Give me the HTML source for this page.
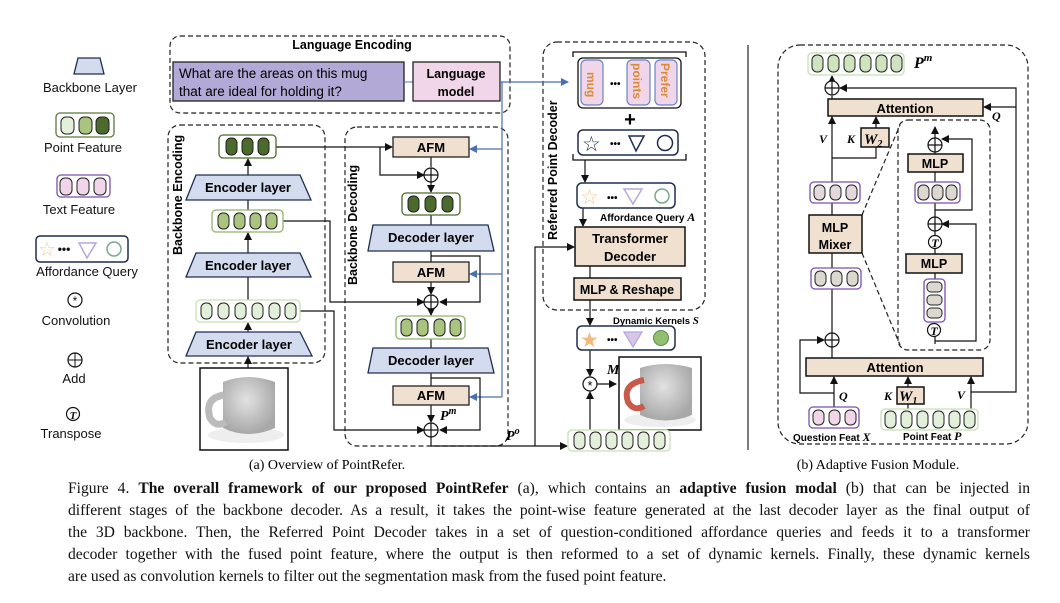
<!DOCTYPE html>
<html><head><meta charset="utf-8"><style>
body{margin:0;background:#fff;width:1060px;height:603px;overflow:hidden;position:relative}
svg{position:absolute;left:0;top:0}
.cap{position:absolute;left:68px;width:962px;font-family:"Liberation Serif",serif;font-size:15.6px;color:#111;white-space:nowrap}
.j{text-align:justify;text-align-last:justify;white-space:normal}
</style></head><body>
<svg width="1060" height="603" viewBox="0 0 1060 603" font-family="Liberation Sans, sans-serif">
<defs>
<marker id="a" markerWidth="8" markerHeight="8" refX="7" refY="4" orient="auto" markerUnits="userSpaceOnUse"><path d="M0,0 L8,4 L0,8 z" fill="#111"/></marker>
<marker id="b" markerWidth="8" markerHeight="8" refX="7" refY="4" orient="auto" markerUnits="userSpaceOnUse"><path d="M0,0 L8,4 L0,8 z" fill="#4a6fb8"/></marker>
<radialGradient id="mg" cx="45%" cy="40%" r="60%"><stop offset="0" stop-color="#e2e2e2"/><stop offset="1" stop-color="#a8a8a8"/></radialGradient>
</defs>
<g fill="none" stroke="#222" stroke-width="1.2" stroke-dasharray="5,3">
<rect x="170" y="36" width="340" height="77" rx="10"/>
<rect x="168" y="125" width="157" height="238" rx="12"/>
<rect x="345" y="127" width="163" height="319" rx="12"/>
<rect x="543" y="42" width="162" height="268" rx="14"/>
<rect x="778" y="45" width="250" height="399" rx="22"/>
<rect x="898" y="120" width="92" height="230" rx="10"/>
<line x1="862" y1="215" x2="900" y2="125"/>
<line x1="862" y1="253" x2="900" y2="345"/>
</g>
<line x1="748" y1="45" x2="748" y2="450" stroke="#222" stroke-width="1.2"/>
<g font-size="13" fill="#111" text-anchor="middle">
<polygon points="78,58 100,58 104,74 74,74" fill="#d3dbef" stroke="#1f2d50" stroke-width="1.3"/>
<text x="90" y="92">Backbone Layer</text>
<rect x="56" y="113" width="58" height="24" rx="4" fill="#fff" stroke="#5a7a3a" stroke-width="1.3"/>
<rect x="61" y="117" width="13" height="17" rx="5" fill="#e2efd9" stroke="#222"/>
<rect x="79" y="117" width="13" height="17" rx="5" fill="#a9c47f" stroke="#222"/>
<rect x="96" y="117" width="13" height="17" rx="5" fill="#4a6b2c" stroke="#222"/>
<text x="83" y="152">Point Feature</text>
<rect x="57" y="175" width="53" height="22" rx="4" fill="#fff" stroke="#7a4fb0" stroke-width="1.3"/>
<rect x="60" y="178" width="12" height="17" rx="5" fill="#f0d6e8" stroke="#222"/>
<rect x="77" y="178" width="12" height="17" rx="5" fill="#f0d6e8" stroke="#222"/>
<rect x="94" y="178" width="12" height="17" rx="5" fill="#f0d6e8" stroke="#222"/>
<text x="79" y="214">Text Feature</text>
<rect x="36" y="236" width="92" height="26" rx="4" fill="#fff" stroke="#1f2d50" stroke-width="1.5"/>
<text x="47" y="256" font-size="20" fill="#f3c9a0" stroke="none">☆</text>
<text x="64" y="253" font-size="12" font-weight="bold">•••</text>
<polygon points="79,243 96,243 87,258" fill="none" stroke="#b5a8dc" stroke-width="1.5"/>
<circle cx="114" cy="249" r="7" fill="none" stroke="#7aa88a" stroke-width="1.5"/>
<text x="87" y="276">Affordance Query</text>
<circle cx="75" cy="300" r="7" fill="none" stroke="#111" stroke-width="1.2"/>
<text x="75" y="305" font-size="12">*</text>
<text x="76" y="325">Convolution</text>
<circle cx="75" cy="360" r="7" fill="none" stroke="#111" stroke-width="1.2"/>
<path d="M68,360 H82 M75,353 V367" stroke="#111"/>
<text x="74" y="383">Add</text>
<circle cx="73" cy="414" r="6.5" fill="none" stroke="#111" stroke-width="1.2"/>
<text x="73" y="419" font-size="11" font-style="italic" font-family="Liberation Serif,serif" font-weight="bold">T</text>
<text x="71" y="438">Transpose</text>
</g>
<text x="352" y="49" font-size="12.5" font-weight="bold" text-anchor="middle">Language Encoding</text>
<rect x="173" y="62" width="231" height="39" fill="#b3a9d6" stroke="#222" stroke-width="1.3"/>
<text x="179" y="78" font-size="13.5">What are the areas on this mug</text>
<text x="179" y="96" font-size="13.5">that are ideal for holding it?</text>
<line x1="404" y1="82" x2="413" y2="82" stroke="#4a6fb8"/>
<rect x="413" y="62" width="87" height="39" fill="#f0d6e8" stroke="#222" stroke-width="1.3"/>
<text x="456" y="78" font-size="12.5" font-weight="bold" text-anchor="middle">Language</text>
<text x="456" y="96" font-size="12.5" font-weight="bold" text-anchor="middle">model</text>
<g stroke="#4a6fb8" stroke-width="1.2" fill="none">
<path d="M500,82 H568" marker-end="url(#b)"/>
<path d="M502,82 V397"/>
<path d="M502,149 H470" marker-end="url(#b)"/>
<path d="M502,274 H470" marker-end="url(#b)"/>
<path d="M502,397 H470" marker-end="url(#b)"/>
</g>
<text transform="translate(182,255) rotate(-90)" font-size="12.5" font-weight="bold">Backbone Encoding</text>
<text transform="translate(357,285) rotate(-90)" font-size="12.5" font-weight="bold">Backbone Decoding</text>
<text transform="translate(557,240) rotate(-90)" font-size="12.5" font-weight="bold">Referred Point Decoder</text>
<g stroke="#111" stroke-width="1.2" fill="none">
<path d="M248,368 V357" marker-end="url(#a)"/>
<path d="M248,332 V323" marker-end="url(#a)"/>
<path d="M248,300 V277"/>
<path d="M248,253 V233" marker-end="url(#a)"/>
<path d="M248,210 V200"/>
<path d="M248,175 V159" marker-end="url(#a)"/>
<path d="M276,147 H392" marker-end="url(#a)"/>
<path d="M380,147 V175 H424" marker-end="url(#a)"/>
<path d="M431,157 V167"/>
<path d="M431,182 V192" marker-end="url(#a)"/>
<path d="M431,215 V225"/>
<path d="M431,251 V262"/>
<path d="M431,256 H480 V302 H440" marker-end="url(#a)"/>
<path d="M431,282 V294" marker-end="url(#a)"/>
<path d="M283,221 H330 V302 H424" marker-end="url(#a)"/>
<path d="M431,309 V315" marker-end="url(#a)"/>
<path d="M431,339 V348"/>
<path d="M431,373 V386"/>
<path d="M431,378 H480 V430 H440" marker-end="url(#a)"/>
<path d="M431,405 V422" marker-end="url(#a)"/>
<path d="M300,311 H334 V430 H424" marker-end="url(#a)"/>
<path d="M431,437 V446 H567" marker-end="url(#a)"/>
<path d="M535,446 V247 H574" marker-end="url(#a)"/>
<path d="M585,160 V182" marker-end="url(#a)"/>
<path d="M583,208 V226" marker-end="url(#a)"/>
<path d="M590,266 V278"/>
<path d="M590,300 V325" marker-end="url(#a)"/>
<path d="M590,350 V376" marker-end="url(#a)"/>
<path d="M597,384 H616" marker-end="url(#a)"/>
<path d="M590,430 V392" marker-end="url(#a)"/>
<path d="M834,407 V377" marker-end="url(#a)"/>
<path d="M834,393 H800 V340 H824" marker-end="url(#a)"/>
<path d="M908,409 V404"/>
<path d="M908,387 V377" marker-end="url(#a)"/>
<path d="M971,409 V377" marker-end="url(#a)"/>
<path d="M971,392 H1016 V88 H840" marker-end="url(#a)"/>
<path d="M1016,107 H984" marker-end="url(#a)"/>
<path d="M832,358 V347"/>
<path d="M832,333 V289"/>
<path d="M832,268 V253"/>
<path d="M832,215 V202"/>
<path d="M832,183 V117" marker-end="url(#a)"/>
<path d="M832,158 H876 V147"/>
<path d="M876,128 V117" marker-end="url(#a)"/>
<path d="M832,99 V96" />
<path d="M832,81 V76" marker-end="url(#a)"/>
<path d="M935,344 V337"/>
<path d="M935,341 H976 V224 H942" marker-end="url(#a)"/>
<path d="M935,279 V273"/>
<path d="M935,254 V249"/>
<path d="M935,235 V231"/>
<path d="M935,217 V202"/>
<path d="M935,210 H972 V139 H942" marker-end="url(#a)"/>
<path d="M935,182 V172"/>
<path d="M935,154 V152"/>
<path d="M935,138 V127" marker-end="url(#a)"/>
</g>
<g stroke="#222" stroke-width="1">
<rect x="219" y="135" width="57" height="23" rx="4" fill="#fff" stroke="#4a6b2c" stroke-width="1.3"/>
<rect x="226" y="138" width="11" height="17" rx="5" fill="#4a6b2c"/><rect x="242" y="138" width="11" height="17" rx="5" fill="#4a6b2c"/><rect x="258" y="138" width="11" height="17" rx="5" fill="#4a6b2c"/>
<polygon points="196,175 300,175 311,200 186,200" fill="#d3dbef" stroke="#1f2d50" stroke-width="1.3"/>
<rect x="212" y="210" width="71" height="22" rx="4" fill="#fff" stroke="#8fb56a" stroke-width="1.3"/>
<rect x="218" y="213" width="11" height="16" rx="5" fill="#a9c47f"/><rect x="234" y="213" width="11" height="16" rx="5" fill="#a9c47f"/><rect x="250" y="213" width="11" height="16" rx="5" fill="#a9c47f"/><rect x="266" y="213" width="11" height="16" rx="5" fill="#a9c47f"/>
<polygon points="196,253 300,253 311,277 186,277" fill="#d3dbef" stroke="#1f2d50" stroke-width="1.3"/>
<rect x="196" y="300" width="104" height="22" rx="4" fill="#fff" stroke="#c5e0b4" stroke-width="1.3"/>
<rect x="201" y="303" width="11" height="16" rx="5" fill="#e2efd9"/><rect x="218" y="303" width="11" height="16" rx="5" fill="#e2efd9"/><rect x="235" y="303" width="11" height="16" rx="5" fill="#e2efd9"/><rect x="252" y="303" width="11" height="16" rx="5" fill="#e2efd9"/><rect x="269" y="303" width="11" height="16" rx="5" fill="#e2efd9"/><rect x="285" y="303" width="11" height="16" rx="5" fill="#e2efd9"/>
<polygon points="196,332 300,332 312,356 186,356" fill="#d3dbef" stroke="#1f2d50" stroke-width="1.3"/>
</g>
<g font-size="13" font-weight="bold" text-anchor="middle">
<text x="248" y="192">Encoder layer</text>
<text x="248" y="270">Encoder layer</text>
<text x="249" y="349">Encoder layer</text>
</g>
<rect x="200" y="368" width="88" height="82" fill="#fff" stroke="#111" stroke-width="1.5"/>
<ellipse cx="246" cy="435" rx="38" ry="8" fill="#eeeeee"/>
<path d="M223,382 Q248,372 275,382 V428 Q248,440 223,428 Z" fill="url(#mg)"/>
<path d="M224,395 Q204,398 210,418 Q216,428 226,422" fill="none" stroke="#bbb" stroke-width="7"/>
<g stroke="#222" stroke-width="1.3">
<rect x="393" y="137" width="76" height="20" fill="#efe0d0"/>
<rect x="402" y="193" width="58" height="22" rx="4" fill="#fff" stroke="#4a6b2c"/>
<rect x="408" y="196" width="11" height="16" rx="5" fill="#4a6b2c" stroke-width="1"/><rect x="425" y="196" width="11" height="16" rx="5" fill="#4a6b2c" stroke-width="1"/><rect x="442" y="196" width="11" height="16" rx="5" fill="#4a6b2c" stroke-width="1"/>
<polygon points="373,225 488,225 494,251 368,251" fill="#d3dbef" stroke="#1f2d50"/>
<rect x="393" y="262" width="76" height="20" fill="#efe0d0"/>
<rect x="396" y="316" width="69" height="23" rx="4" fill="#fff" stroke="#8fb56a"/>
<rect x="401" y="319" width="11" height="17" rx="5" fill="#a9c47f" stroke-width="1"/><rect x="417" y="319" width="11" height="17" rx="5" fill="#a9c47f" stroke-width="1"/><rect x="434" y="319" width="11" height="17" rx="5" fill="#a9c47f" stroke-width="1"/><rect x="450" y="319" width="11" height="17" rx="5" fill="#a9c47f" stroke-width="1"/>
<polygon points="373,348 488,348 494,373 368,373" fill="#d3dbef" stroke="#1f2d50"/>
<rect x="393" y="386" width="76" height="19" fill="#efe0d0"/>
</g>
<g fill="#fff" stroke="#111" stroke-width="1.2">
<circle cx="431" cy="175" r="7"/><path d="M424,175 H438 M431,168 V182"/>
<circle cx="431" cy="302" r="7"/><path d="M424,302 H438 M431,295 V309"/>
<circle cx="431" cy="430" r="7"/><path d="M424,430 H438 M431,423 V437"/>
</g>
<g font-size="13" font-weight="bold" text-anchor="middle">
<text x="431" y="152">AFM</text>
<text x="431" y="242">Decoder layer</text>
<text x="431" y="277">AFM</text>
<text x="431" y="365">Decoder layer</text>
<text x="431" y="400">AFM</text>
</g>
<text x="440" y="420" font-family="Liberation Serif,serif" font-style="italic" font-weight="bold" font-size="14">P<tspan font-size="10" dy="-6">m</tspan></text>
<text x="506" y="440" font-family="Liberation Serif,serif" font-style="italic" font-weight="bold" font-size="14">P<tspan font-size="10" dy="-6">o</tspan></text>
<path d="M573,57 V52 H686 V57" fill="none" stroke="#111" stroke-width="1.3"/>
<rect x="578" y="58" width="103" height="50" rx="5" fill="#fff" stroke="#111" stroke-width="1.3"/>
<g fill="#f0d6e8" stroke="#6a84c8" stroke-width="1.2">
<rect x="581" y="60" width="22" height="45" rx="5"/><rect x="627" y="60" width="23" height="45" rx="5"/><rect x="655" y="60" width="22" height="45" rx="5"/>
</g>
<g fill="#d98a3a" font-size="12" font-weight="bold">
<text transform="translate(587,72) rotate(90)">mug</text>
<text transform="translate(633,63) rotate(90)">points</text>
<text transform="translate(661,63) rotate(90)">Prefer</text>
</g>
<text x="610" y="87" font-size="10" font-weight="bold">•••</text>
<text x="630" y="126" font-size="20" font-weight="bold" text-anchor="middle">+</text>
<rect x="578" y="130" width="100" height="25" rx="5" fill="#fff" stroke="#1f2d50" stroke-width="1.5"/>
<text x="582" y="151" font-size="21" fill="#1f2d50">☆</text>
<text x="610" y="147" font-size="10" font-weight="bold">•••</text>
<polygon points="629,136 644,136 636,151" fill="none" stroke="#1f2d50" stroke-width="1.5"/>
<circle cx="665" cy="143" r="7.5" fill="none" stroke="#1f2d50" stroke-width="1.5"/>
<path d="M573,154 V160 H686 V154" fill="none" stroke="#111" stroke-width="1.3"/>
<rect x="577" y="183" width="98" height="25" rx="5" fill="#fff" stroke="#1f2d50" stroke-width="1.5"/>
<text x="580" y="204" font-size="21" fill="#f3c9a0">☆</text>
<text x="607" y="201" font-size="10" font-weight="bold">•••</text>
<polygon points="624,189 642,189 633,204" fill="none" stroke="#b5a8dc" stroke-width="1.5"/>
<circle cx="662" cy="196" r="7" fill="none" stroke="#7aa88a" stroke-width="1.5"/>
<text x="600" y="221" font-size="10" font-weight="bold">Affordance Query <tspan font-family="Liberation Serif,serif" font-style="italic" font-size="12">A</tspan></text>
<rect x="575" y="227" width="110" height="39" fill="#efe0d0" stroke="#111" stroke-width="1.5"/>
<text x="630" y="243" font-size="13" font-weight="bold" text-anchor="middle">Transformer</text>
<text x="630" y="261" font-size="13" font-weight="bold" text-anchor="middle">Decoder</text>
<rect x="574" y="278" width="107" height="22" fill="#efe0d0" stroke="#111" stroke-width="1.5"/>
<text x="627" y="294" font-size="12.5" font-weight="bold" text-anchor="middle">MLP &amp; Reshape</text>
<text x="613" y="324" font-size="9.5" font-weight="bold">Dynamic Kernels <tspan font-family="Liberation Serif,serif" font-style="italic" font-size="11">S</tspan></text>
<rect x="577" y="326" width="98" height="24" rx="5" fill="#fff" stroke="#1f2d50" stroke-width="1.5"/>
<text x="580" y="347" font-size="21" fill="#f2b97a">★</text>
<text x="607" y="343" font-size="10" font-weight="bold">•••</text>
<polygon points="624,332 642,332 633,347" fill="#d7c6ea" stroke="#b5a8dc" stroke-width="1.3"/>
<circle cx="661" cy="338" r="7.5" fill="#8fbf6f" stroke="#5a8a4a"/>
<circle cx="590" cy="384" r="7" fill="#fff" stroke="#111" stroke-width="1.2"/>
<text x="590" y="390" font-size="13" text-anchor="middle">*</text>
<text x="607" y="374" font-family="Liberation Serif,serif" font-style="italic" font-weight="bold" font-size="14">M</text>
<rect x="619" y="357" width="82" height="73" fill="#fff" stroke="#111" stroke-width="1.5"/>
<ellipse cx="660" cy="420" rx="36" ry="7" fill="#eeeeee"/>
<path d="M640,368 Q665,360 692,368 V415 Q665,426 640,415 Z" fill="url(#mg)"/>
<path d="M644,380 Q622,384 628,402 Q634,412 644,406" fill="none" stroke="#c95a4a" stroke-width="6"/>
<rect x="568" y="430" width="102" height="21" rx="4" fill="#fff" stroke="#c5e0b4" stroke-width="1.3"/>
<g fill="#e2efd9" stroke="#222"><rect x="574" y="432" width="11" height="17" rx="5"/><rect x="590" y="432" width="11" height="17" rx="5"/><rect x="606" y="432" width="11" height="17" rx="5"/><rect x="622" y="432" width="11" height="17" rx="5"/><rect x="638" y="432" width="11" height="17" rx="5"/><rect x="654" y="432" width="11" height="17" rx="5"/></g>
<rect x="808" y="53" width="96" height="22" rx="4" fill="#fff" stroke="#c5e0b4" stroke-width="1.3"/>
<g fill="#cfe3c0" stroke="#222"><rect x="812" y="55" width="11" height="17" rx="5"/><rect x="828" y="55" width="11" height="17" rx="5"/><rect x="844" y="55" width="11" height="17" rx="5"/><rect x="860" y="55" width="11" height="17" rx="5"/><rect x="876" y="55" width="11" height="17" rx="5"/><rect x="891" y="55" width="11" height="17" rx="5"/></g>
<text x="914" y="68" font-family="Liberation Serif,serif" font-style="italic" font-weight="bold" font-size="16">P<tspan font-size="11" dy="-7">m</tspan></text>
<g fill="#fff" stroke="#111" stroke-width="1.2">
<circle cx="832" cy="88" r="7"/><path d="M825,88 H839 M832,81 V95"/>
<circle cx="832" cy="340" r="7"/><path d="M825,340 H839 M832,333 V347"/>
<circle cx="935" cy="145" r="7"/><path d="M928,145 H942 M935,138 V152"/>
<circle cx="935" cy="224" r="7"/><path d="M928,224 H942 M935,217 V231"/>
<circle cx="935" cy="242" r="6.5"/><circle cx="934" cy="330" r="6.5"/>
</g>
<text x="935" y="247" font-size="12" font-style="italic" font-weight="bold" font-family="Liberation Serif,serif" text-anchor="middle">T</text>
<text x="934" y="335" font-size="12" font-style="italic" font-weight="bold" font-family="Liberation Serif,serif" text-anchor="middle">T</text>
<rect x="828" y="99" width="155" height="17" fill="#efe0d0" stroke="#111" stroke-width="1.5"/>
<text x="905" y="113" font-size="13" font-weight="bold" text-anchor="middle">Attention</text>
<text x="992" y="120" font-family="Liberation Serif,serif" font-style="italic" font-weight="bold" font-size="12">Q</text>
<text x="819" y="143" font-family="Liberation Serif,serif" font-style="italic" font-weight="bold" font-size="12">V</text>
<text x="847" y="143" font-family="Liberation Serif,serif" font-style="italic" font-weight="bold" font-size="12">K</text>
<rect x="861" y="128" width="28" height="19" fill="#efe0d0" stroke="#111" stroke-width="1.5"/>
<text x="864" y="144" font-family="Liberation Serif,serif" font-style="italic" font-weight="bold" font-size="15">W<tspan font-size="10" dy="3">2</tspan></text>
<g stroke="#7a4fb0" stroke-width="1.3" fill="#fff">
<rect x="810" y="182" width="50" height="21" rx="4"/><rect x="811" y="268" width="50" height="21" rx="4"/><rect x="915" y="182" width="45" height="21" rx="4"/><rect x="924" y="279" width="21" height="43" rx="4"/>
<rect x="809" y="407" width="50" height="21" rx="4"/>
</g>
<g stroke="#222" stroke-width="1">
<rect x="814" y="185" width="11" height="15" rx="5" fill="#e4d8dd"/><rect x="830" y="185" width="11" height="15" rx="5" fill="#e4d8dd"/><rect x="846" y="185" width="11" height="15" rx="5" fill="#e4d8dd"/>
<rect x="815" y="271" width="11" height="15" rx="5" fill="#dcd8cf"/><rect x="831" y="271" width="11" height="15" rx="5" fill="#dcd8cf"/><rect x="847" y="271" width="11" height="15" rx="5" fill="#dcd8cf"/>
<rect x="918" y="185" width="11" height="15" rx="5" fill="#dcd8cf"/><rect x="932" y="185" width="11" height="15" rx="5" fill="#dcd8cf"/><rect x="946" y="185" width="11" height="15" rx="5" fill="#dcd8cf"/>
<rect x="927" y="282" width="15" height="10" rx="4" fill="#dcd8cf"/><rect x="927" y="295" width="15" height="10" rx="4" fill="#dcd8cf"/><rect x="927" y="308" width="15" height="10" rx="4" fill="#dcd8cf"/>
<rect x="813" y="410" width="11" height="15" rx="5" fill="#f0d6e8"/><rect x="829" y="410" width="11" height="15" rx="5" fill="#f0d6e8"/><rect x="845" y="410" width="11" height="15" rx="5" fill="#f0d6e8"/>
</g>
<rect x="809" y="215" width="53" height="38" fill="#efe0d0" stroke="#111" stroke-width="1.5"/>
<text x="835" y="232" font-size="12.5" font-weight="bold" text-anchor="middle">MLP</text>
<text x="835" y="249" font-size="12.5" font-weight="bold" text-anchor="middle">Mixer</text>
<rect x="908" y="154" width="55" height="18" fill="#efe0d0" stroke="#111" stroke-width="1.5"/>
<text x="935" y="168" font-size="12.5" font-weight="bold" text-anchor="middle">MLP</text>
<rect x="906" y="254" width="56" height="19" fill="#efe0d0" stroke="#111" stroke-width="1.5"/>
<text x="934" y="268" font-size="12.5" font-weight="bold" text-anchor="middle">MLP</text>
<rect x="806" y="358" width="177" height="18" fill="#efe0d0" stroke="#111" stroke-width="1.5"/>
<text x="895" y="372" font-size="13" font-weight="bold" text-anchor="middle">Attention</text>
<text x="839" y="400" font-family="Liberation Serif,serif" font-style="italic" font-weight="bold" font-size="12">Q</text>
<text x="884" y="400" font-family="Liberation Serif,serif" font-style="italic" font-weight="bold" font-size="12">K</text>
<rect x="897" y="387" width="27" height="17" fill="#efe0d0" stroke="#111" stroke-width="1.5"/>
<text x="899" y="401" font-family="Liberation Serif,serif" font-style="italic" font-weight="bold" font-size="15">W<tspan font-size="10" dy="3">1</tspan></text>
<text x="957" y="399" font-family="Liberation Serif,serif" font-style="italic" font-weight="bold" font-size="12">V</text>
<rect x="881" y="409" width="97" height="21" rx="4" fill="#fff" stroke="#c5e0b4" stroke-width="1.3"/>
<g fill="#e2efd9" stroke="#222"><rect x="885" y="411" width="11" height="17" rx="5"/><rect x="901" y="411" width="11" height="17" rx="5"/><rect x="917" y="411" width="11" height="17" rx="5"/><rect x="933" y="411" width="11" height="17" rx="5"/><rect x="949" y="411" width="11" height="17" rx="5"/><rect x="964" y="411" width="11" height="17" rx="5"/></g>
<text x="793" y="441" font-size="10" font-weight="bold">Question Feat <tspan font-family="Liberation Serif,serif" font-style="italic" font-size="12">X</tspan></text>
<text x="903" y="440" font-size="10" font-weight="bold">Point Feat <tspan font-family="Liberation Serif,serif" font-style="italic" font-size="12">P</tspan></text>
<text x="327" y="469" font-family="Liberation Serif,serif" font-size="14" text-anchor="middle">(a) Overview of PointRefer.</text>
<text x="878" y="469" font-family="Liberation Serif,serif" font-size="14" text-anchor="middle">(b) Adaptive Fusion Module.</text>
</svg>
<div class="cap j" style="top:480px">Figure 4. <b>The overall framework of our proposed PointRefer</b> (a), which contains an <b>adaptive fusion modal</b> (b) that can be injected in</div>
<div class="cap j" style="top:502px">different stages of the backbone decoder. As a result, it takes the point-wise feature generated at the last decoder layer as the final output of</div>
<div class="cap j" style="top:524px">the 3D backbone. Then, the Referred Point Decoder takes in a set of question-conditioned affordance queries and feeds it to a transformer</div>
<div class="cap j" style="top:546px">decoder together with the fused point feature, where the output is then reformed to a set of dynamic kernels. Finally, these dynamic kernels</div>
<div class="cap" style="top:568px">are used as convolution kernels to filter out the segmentation mask from the fused point feature.</div>
</body></html>
